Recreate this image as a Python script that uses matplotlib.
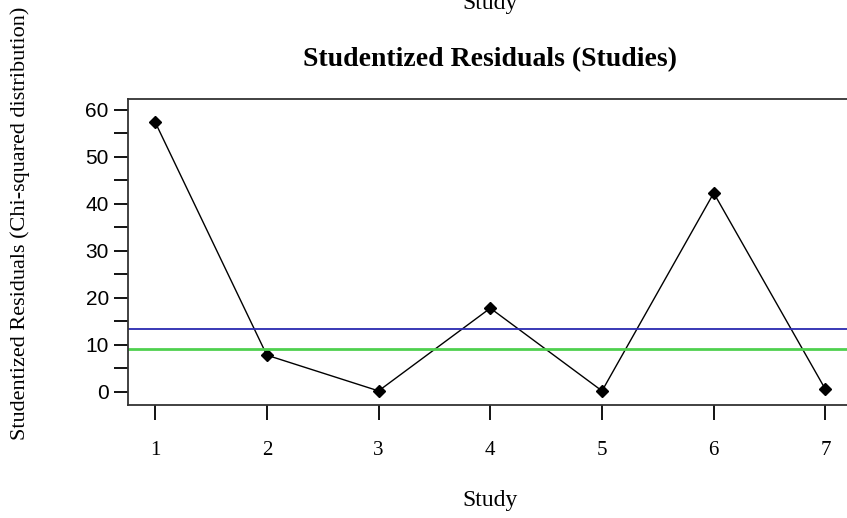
import matplotlib.pyplot as plt
import numpy as np

# studentized residuals per study
studies = [1, 2, 3, 4, 5, 6, 7]
residuals = [57.4, 7.8, 0.2, 17.8, 0.2, 42.3, 0.5]
# chi-squared reference lines
crit_blue = 13.28
crit_green = 9.21
yticks = [0, 10, 20, 30, 40, 50, 60]

fig = plt.figure(figsize=(8.47, 5.18), dpi=100)
ax = fig.add_axes([128.3/847, 113/518, 724/847, 306/518])

ax.plot(studies, residuals, color='black', lw=1, marker='D', ms=6)
ax.axhline(crit_blue, color='#2a2ab0', lw=1.3)
ax.axhline(crit_green, color='#4fd04f', lw=2)

ax.set_xlim(0.76, 7.24)
ax.set_ylim(-2.8, 62.3)

ax.set_yticks(yticks)
ax.set_yticks(np.arange(5, 60, 10), minor=True)
ax.tick_params(axis='y', which='both', length=10, width=1.3, labelsize=15, pad=4)
ax.set_xticks(studies)
ax.set_xticklabels([str(s) for s in studies], family='Liberation Serif', fontsize=15)
ax.tick_params(axis='x', length=11, width=1.3, pad=15)
for lab in ax.get_yticklabels():
    lab.set_family('Liberation Sans')

for s in ax.spines.values():
    s.set_linewidth(1.3)
    s.set_color('#333333')

fig.text(490/847, 1 - 506/518, 'Study', family='Liberation Serif', fontsize=17,
         ha='center', va='baseline')
fig.text(490/847, 1 - 60/518, 'Studentized Residuals (Studies)', family='Liberation Serif',
         fontsize=20, fontweight='bold', ha='center', va='center')
# leftover label from the panel above
fig.text(490/847, 1 - 9/518, 'Study', family='Liberation Serif', fontsize=17,
         ha='center', va='baseline')
fig.text(20/847, 1 - 223/518, 'Studentized Residuals (Chi-squared distribution)',
         family='Liberation Serif', fontsize=16, rotation=90, ha='center', va='center')

fig.savefig('out.png', dpi=100)
